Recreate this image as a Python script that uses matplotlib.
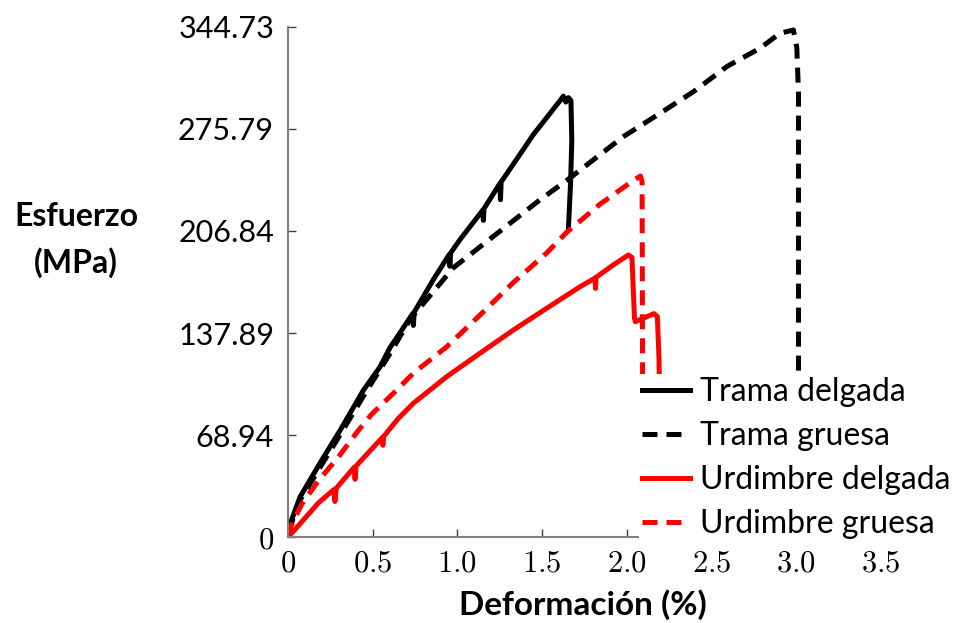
import matplotlib
matplotlib.use('Agg')
import matplotlib.pyplot as plt

plt.rcParams['mathtext.fontset'] = 'cm'
plt.rcParams['font.family'] = ['Lato', 'DejaVu Sans']

# Trama delgada (black solid)
td_x = [0, 0.071, 0.189, 0.307, 0.444, 0.543, 0.602, 0.661, 0.736, 0.740, 0.745, 0.858, 0.952,
        0.955, 0.960, 1.015, 1.150, 1.153, 1.157, 1.251, 1.254, 1.258, 1.389, 1.448, 1.606,
        1.625, 1.640, 1.655, 1.670, 1.675, 1.668, 1.655]
td_y = [5, 27, 50, 72, 99, 115, 128, 138, 151, 143, 152, 174, 191,
        183, 192, 201, 221, 214, 222, 239, 228, 240, 262, 272, 295,
        298, 294, 297, 295, 268, 240, 208]

# Trama gruesa (black dashed)
tg_x = [0, 0.071, 0.189, 0.307, 0.444, 0.602, 0.720, 0.976, 1.232, 1.488, 1.645, 1.979, 2.196,
        2.393, 2.590, 2.786, 2.904, 2.983, 3.003, 3.013, 3.013]
tg_y = [3, 25, 47, 69, 95, 124, 147, 182, 205, 228, 241, 270.6, 286.4,
        301, 318, 330.4, 340.5, 342.7, 331, 300, 20]

# Urdimbre delgada (red solid)
ud_x = [0, 0.041, 0.179, 0.270, 0.277, 0.285, 0.390, 0.396, 0.402, 0.555, 0.560, 0.565, 0.650,
        0.740, 0.937, 1.133, 1.330, 1.527, 1.724, 1.812, 1.815, 1.818, 1.920, 2.009, 2.030,
        2.045, 2.050, 2.100, 2.160, 2.180, 2.190, 2.200, 2.270, 2.300]
ud_y = [0, 5, 23, 32, 24, 33, 47, 39, 48, 67, 62, 68, 80,
        90.4, 108.4, 124.2, 139.9, 154.6, 169.2, 175, 168, 175.5, 183.9, 190.6, 189,
        148, 145.5, 148, 151, 149, 120, 3, 3, 1]

# Urdimbre gruesa (red dashed)
ug_x = [0, 0.020, 0.080, 0.179, 0.297, 0.415, 0.494, 0.612, 0.740, 0.937, 1.133, 1.330, 1.527,
        1.645, 1.842, 2.038, 2.080, 2.090, 2.095]
ug_y = [0, 8, 22, 38, 54, 72, 83, 96, 110.7, 128.6, 150, 172, 192,
        206, 225, 241, 244, 240, 0]

yticks = [0, 68.94, 137.89, 206.84, 275.79, 344.73]
ytick_labels = ['$0$', '68.94', '137.89', '206.84', '275.79', '344.73']
xticks = [0, 0.5, 1.0, 1.5, 2.0, 2.5, 3.0, 3.5]
xtick_labels = ['$0$', '$0.5$', '$1.0$', '$1.5$', '$2.0$', '$2.5$', '$3.0$', '$3.5$']

fig = plt.figure(figsize=(9.66, 6.23), dpi=100)
ax = fig.add_axes([288 / 966, 1 - 537 / 623, (881 - 288) / 966, (537 - 27) / 623])

lw = 3.6
ax.plot(td_x, td_y, color='black', lw=lw, label='Trama delgada')
ax.plot(tg_x, tg_y, color='black', lw=lw, linestyle=(0, (3, 1.8)), label='Trama gruesa')
ax.plot(ud_x, ud_y, color='#ff0000', lw=lw, label='Urdimbre delgada')
ax.plot(ug_x, ug_y, color='#ff0000', lw=lw, linestyle=(0, (3, 1.8)), label='Urdimbre gruesa')

ax.set_xlim(0, 3.5)
ax.set_ylim(0, 344.73)
for s in ['top', 'right']:
    ax.spines[s].set_visible(False)
for s in ['left', 'bottom']:
    ax.spines[s].set_color('#808080')
    ax.spines[s].set_linewidth(1.5)

ax.set_xticks(xticks)
ax.set_xticklabels(xtick_labels, fontsize=22)
ax.set_yticks(yticks)
ax.set_yticklabels(ytick_labels, fontsize=22)
ax.tick_params(direction='in', length=6, width=1, color='#404040')
ax.tick_params(axis='y', pad=10)
ax.tick_params(axis='x', pad=8)

fig.text(76 / 966, 1 - 240 / 623, 'Esfuerzo\n(MPa)', ha='center', va='center',
         fontsize=23, fontweight='bold', linespacing=1.6)
fig.text(583 / 966, 1 - 605 / 623, 'Deformación (%)', ha='center', va='center',
         fontsize=24, fontweight='bold')

leg = ax.legend(loc='upper left', bbox_to_anchor=(639 / 966, 1 - 374 / 623),
                bbox_transform=fig.transFigure, fontsize=23, frameon=True,
                facecolor='white', edgecolor='none', framealpha=1, fancybox=False,
                handlelength=1.5, handletextpad=0.31, labelspacing=0.44, borderpad=0.1,
                borderaxespad=0)

fig.savefig('out.png', dpi=100)
